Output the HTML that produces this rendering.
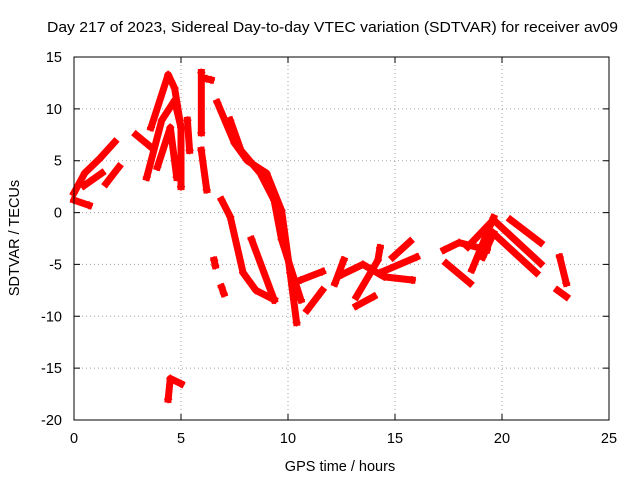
<!DOCTYPE html>
<html><head><meta charset="utf-8"><style>
html,body{margin:0;padding:0;background:#fff;}
svg{display:block;font-family:"Liberation Sans",sans-serif;}
</style></head><body>
<svg id="chart" width="640" height="480" viewBox="0 0 640 480">
<rect width="640" height="480" fill="#fff"/>
<text x="47" y="32" font-size="15" textLength="571" lengthAdjust="spacingAndGlyphs">Day 217 of 2023, Sidereal Day-to-day VTEC variation (SDTVAR) for receiver av09</text>
<g id="grid"></g>
<g id="series"></g>
<rect x="74" y="57" width="535" height="363" fill="none" stroke="#000" stroke-width="1"/>
<g id="ticks"></g>
<text x="340" y="471" font-size="14.5" text-anchor="middle">GPS time / hours</text>
<text transform="translate(19,238) rotate(-90)" font-size="14.5" text-anchor="middle">SDTVAR / TECUs</text>
</svg>
<script>
const xTicks=[0,5,10,15,20,25];
const yTicks=[-20,-15,-10,-5,0,5,10,15];
const trackA=[[0,1.9],[0.5,3.8],[1.2,5.2],[1.9,6.8]];
const trackB=[[0,1.2],[0.7,0.7]];
const trackC=[[0.47,2.6],[1.3,3.8]];
const trackC2=[[1.5,2.8],[2.1,4.4]];
const trackD=[[2.9,7.5],[3.6,6.3]];
const trackD2=[[3.6,8.2],[4.4,13.3],[4.7,12],[5,8.2],[5,2.5]];
const trackE=[[3.4,3.4],[4.1,8.9],[4.7,10.8],[5,8.2]];
const trackE2=[[3.9,4.4],[4.5,8.2],[4.8,3.4]];
const trackF=[[4.4,-18],[4.5,-16],[5,-16.5]];
const trackG=[[5.95,13.5],[5.95,7.7]];
const trackG2=[[5.3,8.9],[5.4,6]];
const trackG3=[[6.2,12.9],[6.4,12.8]];
const trackH=[[6.7,10.6],[7.5,6.7],[8.1,5],[9,3.8],[9.7,0.2],[10.1,-5.8],[10.4,-10.6]];
const trackH2=[[7.3,8.9],[7.8,6],[8.7,3.8],[9.35,1.2],[9.7,-2.6],[10.6,-8.4]];
const trackI=[[5.95,6],[6.2,2.2]];
const trackI2=[[6.9,1.2],[7.3,-0.4],[7.9,-5.8],[8.5,-7.5],[9.35,-8.4]];
const trackJ=[[8.3,-2.6],[9.35,-8.4]];
const trackJ2=[[6.55,-4.6],[6.6,-5.1]];
const trackJ3=[[6.9,-7.2],[7,-7.8]];
const trackK=[[10.6,-6.5],[11.6,-5.7]];
const trackK2=[[10.9,-9.4],[11.6,-7.5]];
const trackK3=[[12.2,-6.8],[12.6,-4.6]];
const trackL=[[13.2,-8.1],[14.2,-4.6],[14.3,-3.4]];
const trackL2=[[13.2,-9],[14,-8.1]];
const trackM=[[14.9,-4.3],[15.7,-2.8]];
const trackM2=[[14.3,-5.8],[16,-4.3]];
const trackM3=[[12.5,-6],[13.5,-5],[14.5,-6.2],[15.8,-6.5]];
const trackN=[[17.3,-3.6],[18,-2.9],[19.3,-3.6]];
const trackN2=[[17.4,-4.9],[18.5,-6.8]];
const trackO=[[18.6,-5.5],[19.6,-0.5]];
const trackP=[[18.4,-3.3],[19.6,-0.7],[21.8,-4.9]];
const trackQ=[[20.4,-0.7],[21.8,-2.9]];
const trackQ2=[[19.6,-2],[21.6,-5.8]];
const trackQ3=[[19.1,-4.3],[19.6,-2]];
const trackR=[[22.7,-4.3],[23,-6.8]];
const trackS=[[22.6,-7.5],[23,-8.1]];
const tracks=[trackA,trackB,trackC,trackC2,trackD,trackD2,trackE,trackE2,trackF,trackG,trackG2,trackG3,trackH,trackH2,trackI,trackI2,trackJ,trackJ2,trackJ3,trackK,trackK2,trackK3,trackL,trackL2,trackM,trackM2,trackM3,trackN,trackN2,trackO,trackP,trackQ,trackQ2,trackQ3,trackR,trackS];
const NS='http://www.w3.org/2000/svg';
const X0=74,X1=609,Y0=420,Y1=57;
function xs(t){return X0+(t-0)/(25-0)*(X1-X0);}
function ys(v){return Y0-(v+20)/(35)*(Y0-Y1);}
const grid=document.getElementById('grid'),ticks=document.getElementById('ticks'),ser=document.getElementById('series');
xTicks.forEach(t=>{
 const x=xs(t);
 if(t>0&&t<25){const l=document.createElementNS(NS,'line');
 
 
 l.setAttribute('x1',x);l.setAttribute('x2',x);l.setAttribute('y1',Y1);l.setAttribute('y2',Y0);
 l.setAttribute('stroke','#a0a0a0');l.setAttribute('stroke-dasharray','1,3');grid.appendChild(l);}
 const tk=document.createElementNS(NS,'path');
 
 
 tk.setAttribute('d',`M${x},${Y0}v-6M${x},${Y1}v6`);tk.setAttribute('stroke','#000');ticks.appendChild(tk);
 const tx=document.createElementNS(NS,'text');
 
 
 tx.setAttribute('x',x);tx.setAttribute('y',443);tx.setAttribute('font-size','14.5');tx.setAttribute('text-anchor','middle');tx.textContent=t;ticks.appendChild(tx);
});
yTicks.forEach(v=>{
 const y=ys(v);
 if(v>-20&&v<15){const l=document.createElementNS(NS,'line');
 
 
 l.setAttribute('x1',X0);l.setAttribute('x2',X1);l.setAttribute('y1',y);l.setAttribute('y2',y);
 l.setAttribute('stroke','#a0a0a0');l.setAttribute('stroke-dasharray','1,3');grid.appendChild(l);}
 const tk=document.createElementNS(NS,'path');
 
 
 tk.setAttribute('d',`M${X0},${y}h6M${X1},${y}h-6`);tk.setAttribute('stroke','#000');ticks.appendChild(tk);
 const tx=document.createElementNS(NS,'text');
 
 
 tx.setAttribute('x',62);tx.setAttribute('y',y+5);tx.setAttribute('font-size','14.5');tx.setAttribute('text-anchor','end');tx.textContent=v;ticks.appendChild(tx);
});
tracks.forEach(tr=>{
 const p=document.createElementNS(NS,'polyline');
 
 
 p.setAttribute('points',tr.map(d=>xs(d[0])+','+ys(d[1])).join(' '));
 p.setAttribute('fill','none');p.setAttribute('stroke','#ff0000');p.setAttribute('stroke-width','7');
 p.setAttribute('stroke-linejoin','round');p.setAttribute('stroke-linecap','square');
 ser.appendChild(p);
 tr.forEach(d=>{
  const m=document.createElementNS(NS,'path');
  
  
  const x=xs(d[0]),y=ys(d[1]);
  m.setAttribute('d',`M${x-4},${y}h8M${x},${y-4}v8`);m.setAttribute('stroke','#ff0000');m.setAttribute('stroke-width','1.5');
  ser.appendChild(m);
 });
});
</script>
</body></html>
